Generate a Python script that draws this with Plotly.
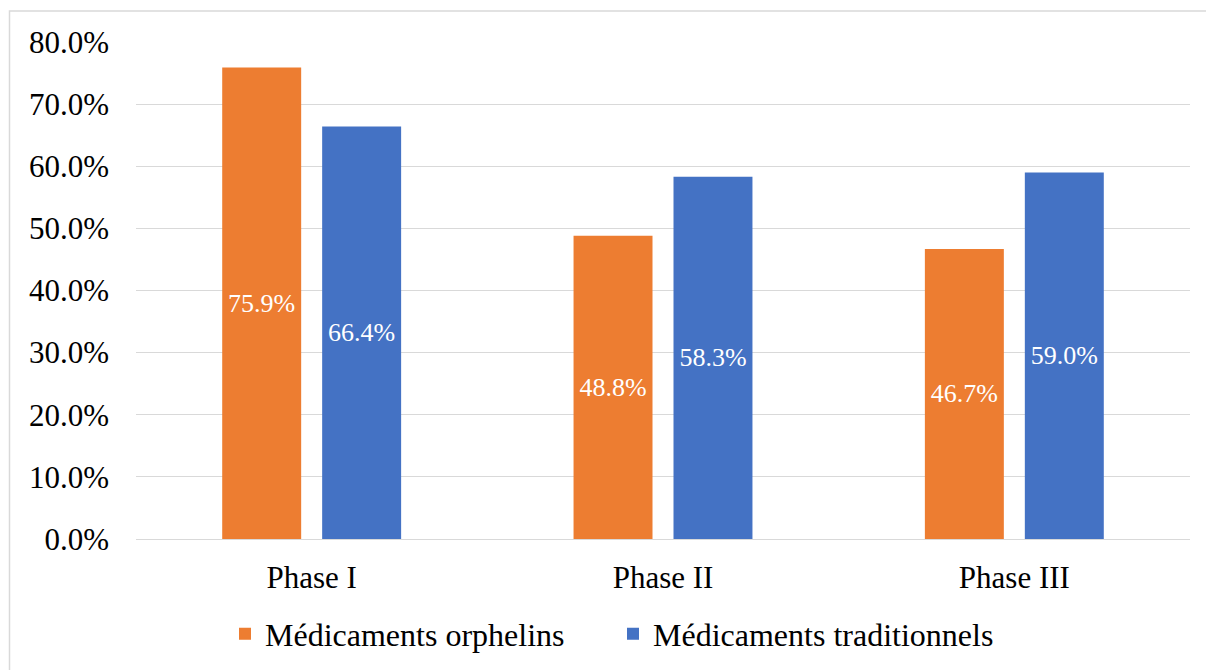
import plotly.graph_objects as go

categories = ["Phase I", "Phase II", "Phase III"]
orphelins = [75.9, 48.8, 46.7]
traditionnels = [66.4, 58.3, 59.0]
series_names = ["Médicaments orphelins", "Médicaments traditionnels"]
y_ticks = [0, 10, 20, 30, 40, 50, 60, 70, 80]

FONT = "Times New Roman, Liberation Serif, serif"
OFF = 8  # page body margin

W, H = 1214 - OFF, 670 - OFF
L, R, T, B = 136 - OFF, 1214 - 1190, 42 - OFF, 670 - 539
pw, ph = W - L - R, H - T - B


def px_x(p):
    return (p - OFF - L) / pw


def px_y(p):
    return (H - B - (p - OFF)) / ph


fig = go.Figure()
for name, vals, color in [(series_names[0], orphelins, "#ED7D31"),
                          (series_names[1], traditionnels, "#4472C4")]:
    fig.add_trace(go.Bar(
        x=categories, y=vals, name=name, marker_color=color,
        marker_line_width=0,
        text=[f"{v:.1f}%" for v in vals], textposition="inside",
        insidetextanchor="middle",
        textfont=dict(color="white", size=26, family=FONT),
    ))

fig.update_layout(
    width=W, height=H,
    margin=dict(l=L, r=R, t=T, b=B, autoexpand=False),
    paper_bgcolor="white", plot_bgcolor="white",
    barmode="group", bargap=0.431, bargroupgap=0.21,
    font=dict(family=FONT, size=31, color="black"),
    showlegend=True,
    legend=dict(orientation="h", x=px_x(225), xanchor="left",
                yref="container", y=1 - (634 - OFF) / H, yanchor="middle",
                font=dict(size=32, family=FONT, color="black"), itemwidth=30,
                entrywidth=343, entrywidthmode="pixels",
                traceorder="normal"),
    uniformtext=dict(minsize=10, mode="show"),
)
fig.update_yaxes(range=[0, 80], tickvals=y_ticks,
                 ticktext=[f"{v:.1f}%" for v in y_ticks],
                 showgrid=True, gridcolor="#D9D9D9", gridwidth=1,
                 zeroline=False, showline=False, ticks="", automargin=False,
                 ticklabelstandoff=26, tickfont=dict(size=31, family=FONT))
fig.update_xaxes(showline=True, linecolor="#D9D9D9", linewidth=1,
                 ticks="", ticklabelstandoff=11, automargin=False,
                 tickfont=dict(size=31, family=FONT))

fig.add_shape(type="rect", xref="paper", yref="paper",
              x0=px_x(9.5), x1=px_x(1213), y0=px_y(690), y1=px_y(11),
              line=dict(color="#D9D9D9", width=1.5), fillcolor="rgba(0,0,0,0)",
              layer="below")

fig.write_html("out.html")
